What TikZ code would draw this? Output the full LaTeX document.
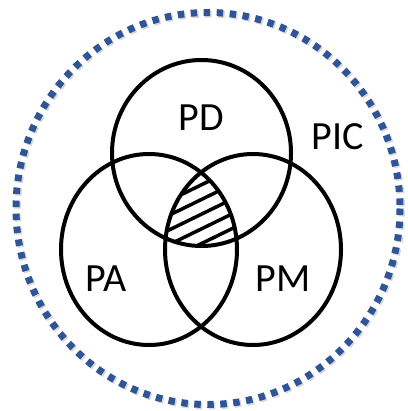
\documentclass[tikz,border=0pt]{standalone}
\usepackage{fontspec}
\setmainfont{Carlito}
\definecolor{ringblue}{HTML}{2F5597}
\begin{document}
\begin{tikzpicture}[x=1pt,y=-1pt,
 set/.style={draw=black,line width=4pt},
 ring/.style={draw=ringblue,line width=7pt,dash pattern=on 6.5pt off 6.5pt},
 hatch/.style={line width=3.5pt},
 lbl/.style={font=\fontsize{40}{46}\selectfont,inner sep=0pt}]
 \useasboundingbox (0,0) rectangle (407,411);
 % outer dotted ring with a faint shadow
 \draw[ring,draw=black!30,opacity=.5,shift={(1.5,1.5)}]
   (208,208.5) ellipse [x radius=192,y radius=196];
 \draw[ring] (208,208.5) ellipse [x radius=192,y radius=196];
 % hatched common part
 \begin{scope}
  \clip (201.5,153) ellipse [x radius=89.5,y radius=93];
  \clip (149,249.5) ellipse [x radius=88,y radius=95.5];
  \clip (253,249.5) ellipse [x radius=88,y radius=95.5];
  \foreach \i in {0,...,4}
   \draw[hatch] (140,185+14.7*\i+29.8) -- (262,185+14.7*\i-29.8);
 \end{scope}
 % the three sets
 \draw[set] (201.5,153) ellipse [x radius=89.5,y radius=93];
 \draw[set] (149,249.5) ellipse [x radius=88,y radius=95.5];
 \draw[set] (253,249.5) ellipse [x radius=88,y radius=95.5];
 \node[lbl] (pd) at (201.5,118) {PD};
 \node[lbl] (pa) at (106,279) {PA};
 \node[lbl] (pm) at (283,279) {PM};
 \node[lbl] (pic) at (338,137) {PIC};
\end{tikzpicture}
\end{document}
